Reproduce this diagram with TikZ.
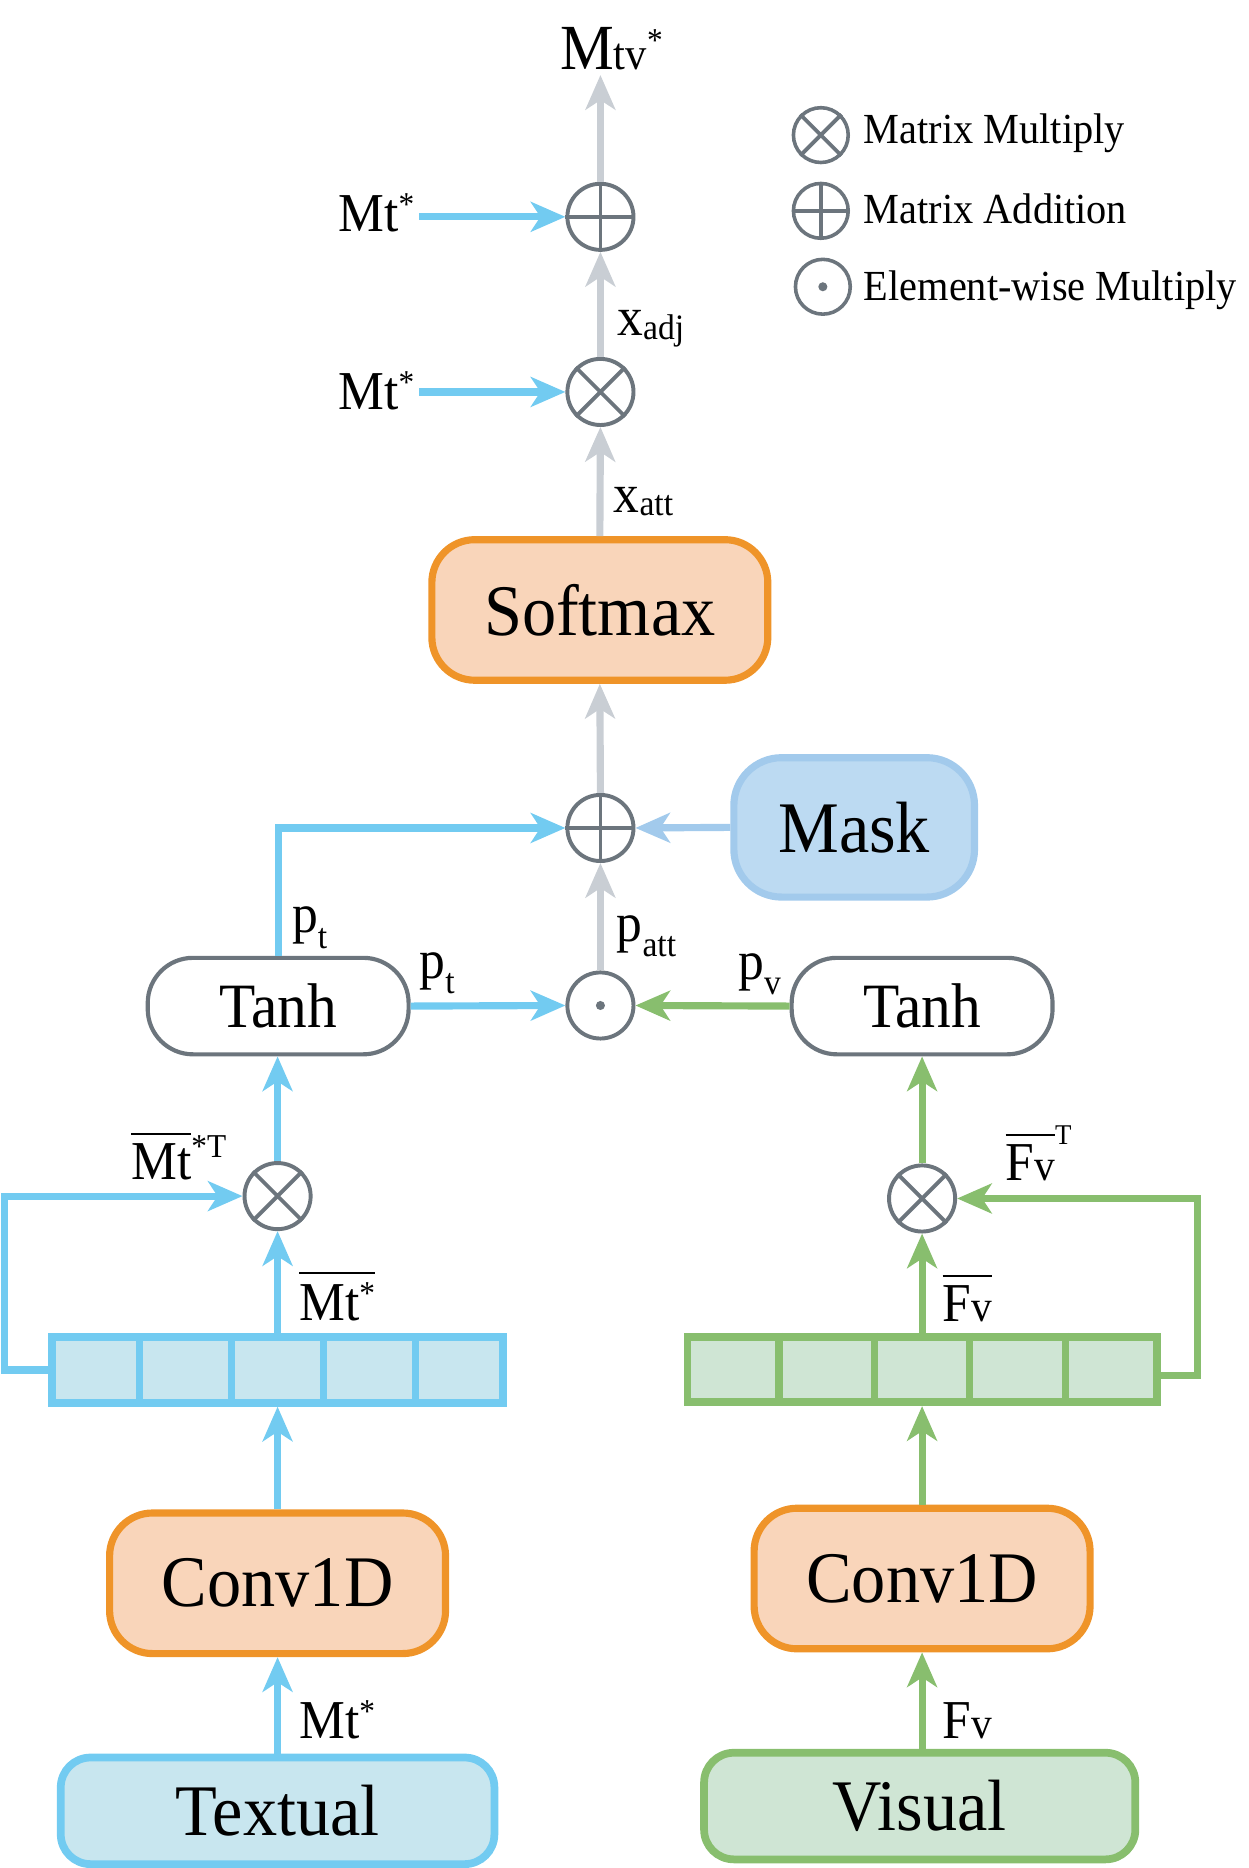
\documentclass[tikz,border=0pt]{standalone}
\usepackage{fontspec}
\setmainfont{Liberation Serif}[FakeStretch=0.94]
\usetikzlibrary{arrows.meta,calc}
\definecolor{cblue}{HTML}{72CBF1}
\definecolor{cbluefill}{HTML}{C8E6EF}
\definecolor{cgreen}{HTML}{88BE6E}
\definecolor{cgreenfill}{HTML}{CFE5D4}
\definecolor{corange}{HTML}{EF9429}
\definecolor{corangefill}{HTML}{F9D5BA}
\definecolor{cmask}{HTML}{A2CAEC}
\definecolor{cmaskfill}{HTML}{BCDAF2}
\definecolor{cgray}{HTML}{6C757D}
\definecolor{carrow}{HTML}{C9CED4}
\newcommand\myLbl{\fontsize{46}{46}\selectfont}
\newcommand\mySub{\fontsize{30}{30}\selectfont}
\newcommand\mySup{\fontsize{28}{28}\selectfont}
\newcommand\myovl[1]{\vbox{\hrule height 2pt\kern 7pt\hbox{#1}}}
\newcommand\crossin[1]{\draw[cgray,line width=3.2pt] (#1.north west)--(#1.south east) (#1.north east)--(#1.south west);}
\newcommand\plusin[1]{\draw[cgray,line width=3.2pt] (#1.north)--(#1.south) (#1.west)--(#1.east);}
\newcommand\dotin[1]{\fill[cgray] (#1.center) circle (3.8pt);}
\begin{document}
\begin{tikzpicture}[x=1pt,y=-1pt,
  opnode/.style={circle,draw=cgray,line width=3.3pt,minimum size=55.5pt,inner sep=0pt,fill=white},
  legop/.style={opnode,minimum size=46pt,line width=3pt},
  bigtext/.style={font=\fontsize{61}{61}\selectfont,inner sep=0pt},
  orangebox/.style={bigtext,draw=corange,fill=corangefill,line width=6pt,rounded corners=36pt,minimum width=282pt,minimum height=118pt},
  maskbox/.style={bigtext,draw=cmask,fill=cmaskfill,line width=6pt,rounded corners=40pt,minimum width=202pt,minimum height=117pt},
  tanhbox/.style={font=\fontsize{53}{53}\selectfont,inner sep=0pt,draw=cgray,fill=white,line width=3.5pt,rounded corners=38pt,minimum width=219pt,minimum height=81pt},
  vecbox/.style={line width=6.5pt,minimum height=55pt,inner sep=0pt},
  inbox/.style={bigtext,line width=6.5pt,rounded corners=25pt,minimum height=89.5pt},
  flow/.style={line width=6pt,-{Stealth[length=29pt,width=25pt,inset=8pt]}},
  grayflow/.style={flow,draw=carrow},
  bflow/.style={flow,draw=cblue},
  gnflow/.style={flow,draw=cgreen},
  mflow/.style={flow,draw=cmask},
  lbl/.style={anchor=base west,inner sep=0pt,font=\myLbl},
  legtext/.style={anchor=base west,inner sep=0pt,font=\fontsize{36}{36}\selectfont}
]
\useasboundingbox (0,0) rectangle (1048.4,1568);

% boxes
\node[orangebox] (soft) at (503.5,512) {Softmax};
\node[maskbox] (mask) at (717,694.5) {Mask};
\node[tanhbox] (tanhL) at (233.5,844.5) {Tanh};
\node[tanhbox] (tanhR) at (774,844.5) {Tanh};
\node[vecbox,draw=cblue,fill=cbluefill,minimum width=379pt] (vecL) at (233,1150) {};
\node[vecbox,draw=cgreen,fill=cgreenfill,minimum width=394pt] (vecR) at (774,1149.5) {};
\node[orangebox] (convL) at (233,1329) {Conv1D};
\node[orangebox] (convR) at (774,1325) {Conv1D};
\node[inbox,draw=cblue,fill=cbluefill,minimum width=364pt] (textual) at (233,1520) {Textual};
\node[inbox,draw=cgreen,fill=cgreenfill,minimum width=362pt] (visual) at (772,1516) {Visual};

% vector cells
\foreach \k in {1,2,3,4}{
  \draw[cblue,line width=6pt] ($(vecL.north west)!\k/5!(vecL.north east)$) -- ($(vecL.south west)!\k/5!(vecL.south east)$);
  \draw[cgreen,line width=6pt] ($(vecR.north west)!\k/5!(vecR.north east)$) -- ($(vecR.south west)!\k/5!(vecR.south east)$);
}

% operators
\node[opnode] (add1) at (504,182) {};
\node[opnode] (mul1) at (504,329) {};
\node[opnode] (add2) at (504,695) {};
\node[opnode] (dot1) at (504,844) {};
\node[opnode] (mulL) at (233,1004) {};
\node[opnode] (mulR) at (774,1006) {};
\plusin{add1} \crossin{mul1} \plusin{add2} \dotin{dot1} \crossin{mulL} \crossin{mulR}

% legend
\node[legop] (lg1) at (689,113.4) {};
\node[legop] (lg2) at (689,177) {};
\node[legop] (lg3) at (690.7,240.7) {};
\crossin{lg1} \plusin{lg2} \dotin{lg3}
\node[legtext] (lt1) at (725,120.3) {Matrix Multiply};
\node[legtext] (lt2) at (725,187.5) {Matrix Addition};
\node[legtext] (lt3) at (725,252.5) {Element-wise Multiply};

% coordinates
\coordinate (topc) at (504,63);
\coordinate (sA) at (352,182);
\coordinate (sB) at (352,329);
\coordinate (loopL) at (4,1004);
\coordinate (loopR) at (1005.5,1006);

% connectors
\draw[grayflow] (add1.north) -- (topc);
\draw[grayflow] (mul1.north) -- (add1.south);
\draw[grayflow] (soft.north) -- (mul1.south);
\draw[grayflow] (add2.north) -- (soft.south);
\draw[grayflow] (dot1.north) -- (add2.south);
\draw[bflow] (sA) -- (add1.west);
\draw[bflow] (sB) -- (mul1.west);
\draw[bflow] (tanhL.north) |- (add2.west);
\draw[bflow] (tanhL.east) -- (dot1.west);
\draw[mflow] (mask.west) -- (add2.east);
\draw[gnflow] (tanhR.west) -- (dot1.east);
\draw[bflow] (mulL.north) -- (tanhL.south -| mulL.north);
\draw[bflow] (vecL.north) -- (mulL.south);
\draw[bflow] (vecL.west) -| (loopL) -- (mulL.west);
\draw[bflow] (convL.north) -- (vecL.south);
\draw[bflow] (textual.north) -- (convL.south);
\draw[gnflow] (mulR.north) -- (tanhR.south);
\draw[gnflow] (vecR.north) -- (mulR.south);
\draw[gnflow] ([yshift=-5pt]vecR.east) -| (loopR) -- (mulR.east);
\draw[gnflow] (convR.north) -- (vecR.south);
\draw[gnflow] (visual.north -| convR.south) -- (convR.south);

% labels
\node[lbl] (lMtv) at (470,58) {\fontsize{54}{54}\selectfont M\fontsize{38}{38}\selectfont tv\raisebox{15pt}{\mySup *}};
\node[lbl] (lMtA) at (284,194) {Mt\raisebox{13pt}{\mySup *}};
\node[lbl] (lMtB) at (284,343.5) {Mt\raisebox{13pt}{\mySup *}};
\node[lbl] (lxadj) at (518,282) {x\raisebox{-3pt}{\mySub adj}};
\node[lbl] (lxatt) at (515,430) {x\raisebox{-3pt}{\mySub att}};
\node[lbl] (lpt1) at (245,783) {p\raisebox{-13pt}{\mySub t}};
\node[lbl] (lpt2) at (352,821) {p\raisebox{-13pt}{\mySub t}};
\node[lbl] (lpatt) at (517.5,790) {p\raisebox{-13pt}{\mySub att}};
\node[lbl] (lpv) at (619.5,822) {p\raisebox{-13pt}{\mySub v}};
\node[lbl] (lMtT) at (110,990) {\myovl{Mt}\raisebox{18pt}{\mySup *T}};
\node[lbl] (lFvT) at (844,991) {\myovl{F{\fontsize{37}{37}\selectfont v}}\raisebox{30pt}{\fontsize{24}{24}\selectfont T}};
\node[lbl] (lMtbar) at (251,1108) {\myovl{Mt\raisebox{13pt}{\mySup *}}};
\node[lbl] (lFvbar) at (791,1109) {\myovl{F{\fontsize{37}{37}\selectfont v}}};
\node[lbl] (lMtin) at (251,1459) {Mt\raisebox{13pt}{\mySup *}};
\node[lbl] (lFvin) at (791,1459) {F{\fontsize{37}{37}\selectfont v}};
\end{tikzpicture}
\end{document}
